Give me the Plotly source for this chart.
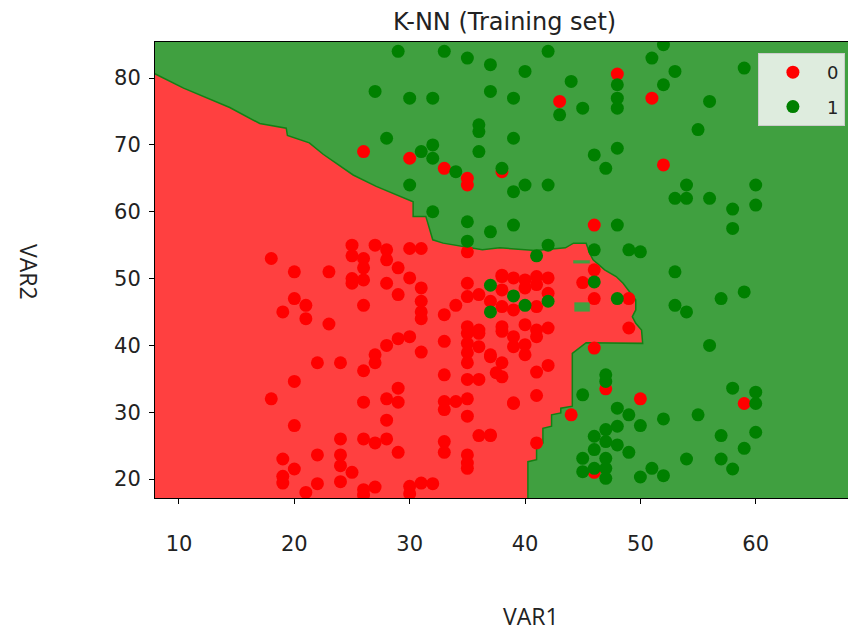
import plotly.graph_objects as go

# ---- training points (VAR1, VAR2) per class ----
var1_class0 = [26, 30, 33, 35, 35, 38, 48, 51, 43, 52,
               46, 46, 45, 46, 49, 49, 46, 47, 50, 59, 44, 41, 37, 39, 41, 41, 42, 38, 46,
               18, 20, 23, 25, 25, 26, 26, 27, 28, 28, 29, 30, 31, 25, 25, 26, 28, 30, 31, 31, 31, 31,
               29, 26, 20, 21, 19, 21, 23, 33, 35, 35, 34, 35, 36, 35, 36, 29, 30, 33, 38,
               28, 31, 27, 27, 26, 22, 24, 20, 18, 26, 28, 29, 29, 28, 20, 24, 26, 27, 28, 29,
               22, 24, 19, 20, 19, 19, 24, 25, 24, 22, 21, 26, 27, 26, 30, 31, 32, 30, 33, 33,
               33, 34, 35, 35, 33, 33, 35, 35, 35, 36, 37, 35, 35, 35, 36, 36, 35, 35, 36, 37, 37.5,
               38, 39, 40, 41, 42, 38, 40, 41, 42, 38, 39, 41, 38, 40, 41, 42, 37, 38, 39, 40, 41,
               37, 38, 39, 40, 39]
var2_class0 = [69, 68, 66.5, 65, 64, 66, 80.6, 77, 76.5, 67,
               58, 51.3, 49.4, 47, 47, 42.6, 39.6, 33.5, 32, 31.3, 29.6, 25.4, 26.6, 31.3, 32.5, 36, 37, 35.3, 21,
               53, 51, 51, 55, 53.4, 53, 51.6, 55, 54.3, 52.8, 51.6, 54.5, 54.5, 50, 49.3, 49.8, 49.3, 50.1, 48.6, 46.6, 45, 44,
               47.6, 46, 47, 46, 45, 44, 43.2, 44.6, 54, 49.3, 46, 47.3, 47.6, 42.8, 41.8, 41, 41.3, 40.6, 50.5,
               40, 39, 38.6, 37.4, 36.2, 37.4, 37.4, 34.6, 32, 31.5, 32, 33.6, 31.5, 28.8, 28, 26, 26, 25.4, 26, 24,
               23.6, 23.6, 23, 21.5, 20.4, 19.4, 22, 21, 19.6, 19.3, 18, 18.4, 18.8, 17.6, 18.9, 19.4, 19.3, 17.8, 35.6, 31.6,
               30.4, 31.6, 32, 29.4, 25.6, 24, 23.6, 22.4, 21.6, 26.5, 26.5, 41.8, 40.3, 38.9, 39.8, 42.3, 37.4, 34.9, 34.9, 38.3, 35.9,
               50.3, 50.1, 49.8, 50.3, 50.1, 48.3, 48.6, 49.1, 47.8, 45.8, 45.3, 45.8, 42.8, 43.1, 42.3, 42.6, 46.6, 42.1, 41.3, 40.1, 41.3,
               38.6, 37.4, 39.8, 38.6, 31.4]

var1_class1 = [29, 33, 35, 37, 27, 30, 32, 37, 36, 36, 28, 36, 32, 31, 32, 34, 30, 38,
               42, 52, 51, 40, 44, 48, 48, 48, 52, 39, 43, 45, 39, 48, 46, 47, 39, 40, 42,
               53, 59, 56, 55, 54, 60, 53, 54, 56, 60, 58, 58,
               39, 37, 48, 42, 41, 46, 49, 50, 53, 57, 59, 53, 54, 46, 48, 39, 40, 42, 37, 37,
               35, 35, 32,
               56, 47, 47, 60, 60, 58, 45, 48, 49, 50, 52, 55, 57, 60, 59, 57, 58, 54, 51, 52,
               50, 49, 46, 47, 48, 47, 48, 46, 45, 47, 46, 45, 47, 47]
var2_class1 = [84, 84, 83, 82, 78, 77, 77, 78, 73, 72, 71, 69, 70, 69, 68, 66, 64, 66.5,
               84, 85, 83, 81, 79.5, 79, 77, 75.5, 79, 77, 74.5, 75.5, 71, 69.5, 68.5, 66.5, 63, 64, 64,
               81, 81.5, 76.5, 72.3, 64, 64, 62, 62, 62, 61, 60.4, 57.5,
               58, 57, 58, 55, 53.4, 54.3, 54.3, 54, 51, 47, 48, 46, 45, 49.5, 47, 47.4, 46, 46.6, 49, 45,
               58.5, 55.6, 60,
               40, 35.6, 34.6, 33, 31.3, 33.6, 32.6, 30.6, 29.6, 28, 29, 29.6, 26.5, 27, 24.6, 23, 21.5, 23, 21.6, 20.5,
               20.3, 24, 26.4, 27.4, 27.9, 25.6, 25.1, 24.4, 23.1, 23.1, 21.6, 21.1, 21.6, 20.1]

# ---- outline of the region predicted as class 0 ----
region0_x = [6.0, 7.92, 10.4, 14.4, 17.0, 19.3, 19.4, 21.3, 22.5, 25.1, 27.1, 30.3, 30.3, 31.4,
             32.0, 32.9, 36.3, 37.8, 40.9, 43.5, 44.2, 45.3, 45.6, 45.9, 46.9, 47.9, 48.5, 49.3,
             49.6, 49.6, 49.3, 49.6, 50.1, 50.2, 45.3, 44.1, 44.1, 43.1, 43.1, 42.3, 42.3, 41.55,
             41.55, 41.0, 41.0, 40.25, 40.25, 6.0]
region0_y = [80.64, 80.64, 78.5, 75.6, 73.2, 72.5, 71.4, 70.3, 68.6, 65.5, 63.8, 61.5, 59.3, 59.3,
             55.8, 55.3, 54.3, 54.6, 54.2, 54.6, 55.3, 55.3, 53.8, 52.8, 51.3, 50.3, 49.3, 47.6,
             46.8, 45.3, 44.3, 43.3, 42.3, 40.3, 40.4, 38.8, 30.9, 30.6, 29.9, 29.6, 27.9, 27.6,
             25.4, 25.1, 22.9, 22.6, 16.0, 16.0]

# small class-1 pockets inside the class-0 region
pocket_x = [[44.3, 45.6, 45.6, 44.3, 44.3], [44.2, 45.6, 45.6, 44.2, 44.2]]
pocket_y = [[45.1, 45.1, 46.4, 46.4, 45.1], [52.3, 52.3, 52.7, 52.7, 52.3]]

x_ticks = [10, 20, 30, 40, 50, 60]
y_ticks = [20, 30, 40, 50, 60, 70, 80]

RED_FILL = "rgb(255,64,64)"
GREEN_FILL = "rgb(64,160,64)"
EDGE = "rgb(20,128,20)"

fig = go.Figure()

fig.add_trace(go.Scatter(
    x=region0_x, y=region0_y, mode="lines", fill="toself",
    fillcolor=RED_FILL, line=dict(color=EDGE, width=1.5),
    hoverinfo="skip", showlegend=False))

for px, py in zip(pocket_x, pocket_y):
    fig.add_trace(go.Scatter(
        x=px, y=py, mode="lines", fill="toself", fillcolor=GREEN_FILL,
        line=dict(color=GREEN_FILL, width=0.5), hoverinfo="skip", showlegend=False))

fig.add_trace(go.Scatter(
    x=var1_class0, y=var2_class0, mode="markers", name="0",
    marker=dict(color="rgb(255,0,0)", size=13, line=dict(width=0)),
    legendgroup="c0"))
fig.add_trace(go.Scatter(
    x=var1_class1, y=var2_class1, mode="markers", name="1",
    marker=dict(color="rgb(0,128,0)", size=13, line=dict(width=0)),
    legendgroup="c1"))

tick_font = dict(family="DejaVu Sans", size=21, color="#222222")

fig.update_layout(
    width=848, height=632,
    margin=dict(l=155, r=0, t=42, b=134),
    paper_bgcolor="white",
    plot_bgcolor=GREEN_FILL,
    showlegend=True,
    legend=dict(
        x=0.870, y=0.976, xanchor="left", yanchor="top",
        bgcolor="rgba(236,242,236,0.92)", bordercolor="#cccccc", borderwidth=1,
        font=dict(family="DejaVu Sans", size=18, color="#222222"),
        tracegroupgap=8, itemwidth=58),
    xaxis=dict(
        range=[7.92, 68.0], tickvals=x_ticks, ticks="outside", ticklen=5,
        tickcolor="black", showline=True, linecolor="black", linewidth=1,
        mirror=True, showgrid=False, zeroline=False, tickfont=tick_font,
        ticklabelstandoff=22),
    yaxis=dict(
        range=[17.16, 85.4], tickvals=y_ticks, ticks="outside", ticklen=5,
        tickcolor="black", showline=True, linecolor="black", linewidth=1,
        mirror=True, showgrid=False, zeroline=False, tickfont=tick_font,
        ticklabelstandoff=4),
    annotations=[
        dict(text="K-NN (Training set)", x=0.505, y=1.044, xref="paper", yref="paper",
             xanchor="center", yanchor="middle", showarrow=False,
             font=dict(family="DejaVu Sans", size=24, color="#222222")),
        dict(text="VAR1", x=(531 - 155) / 693, y=-(616 - 498) / 456, xref="paper", yref="paper",
             xanchor="center", yanchor="middle", showarrow=False,
             font=dict(family="Open Sans", size=23, color="#222222")),
        dict(text="VAR2", x=-(155 - 29) / 693, y=(498 - 272) / 456, xref="paper", yref="paper",
             xanchor="center", yanchor="middle", showarrow=False, textangle=90,
             font=dict(family="Open Sans", size=23, color="#222222")),
    ],
)

fig.write_html("out.html")
